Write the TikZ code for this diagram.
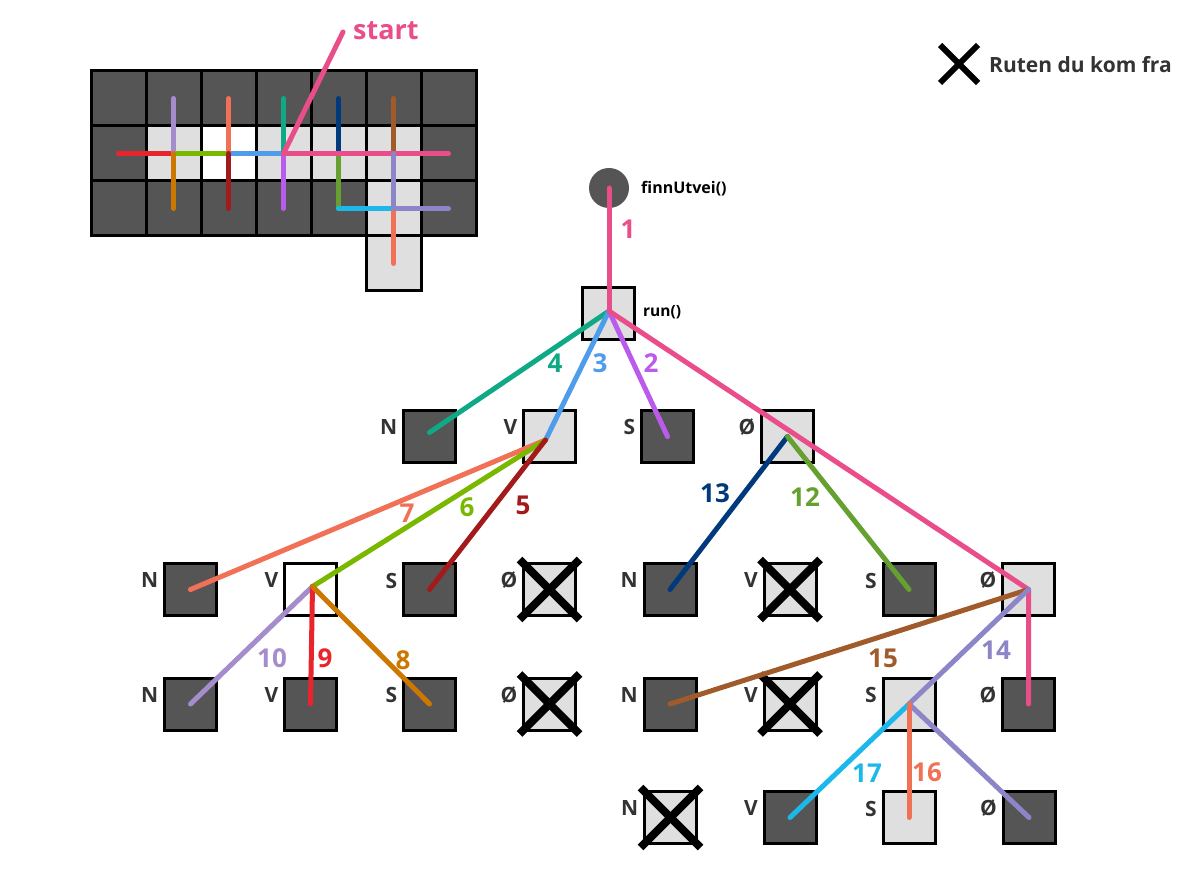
\documentclass[tikz,border=0pt]{standalone}
\usepackage{fontspec}
\setmainfont{Open Sans}
\usetikzlibrary{calc}
\definecolor{cdark}{HTML}{555555}
\definecolor{clight}{HTML}{DFDFDF}
\definecolor{ctext}{HTML}{333333}
\definecolor{cpink}{HTML}{E94E8B}
\definecolor{cteal}{HTML}{10A985}
\definecolor{cblue}{HTML}{4E9DEB}
\definecolor{cpurple}{HTML}{BA5BEC}
\definecolor{csalmon}{HTML}{F07155}
\definecolor{clime}{HTML}{7AB800}
\definecolor{cdarkred}{HTML}{A31A1A}
\definecolor{clav}{HTML}{A58CCB}
\definecolor{cred}{HTML}{E8242C}
\definecolor{corange}{HTML}{CC7700}
\definecolor{cnavy}{HTML}{003A7D}
\definecolor{colive}{HTML}{65A030}
\definecolor{cbrown}{HTML}{A15A2A}
\definecolor{cpgray}{HTML}{8C85C8}
\definecolor{ccyan}{HTML}{1CB8EC}
\newcommand{\mybox}[4]{%
  \node[#1] (#2) at (#3) {};
  \node[lbl] (#2l) at ($(#2.west)+(-6,-9)$) {#4};}
\begin{document}
\begin{tikzpicture}[x=1pt,y=-1pt,
  box/.style={draw=black, line width=3pt, minimum size=52pt, inner sep=0pt, outer sep=0pt},
  dbox/.style={box, fill=cdark},
  lbox/.style={box, fill=clight},
  wbox/.style={box, fill=white},
  cell/.style={draw=black, line width=3pt},
  con/.style={line width=5pt, line cap=round, line join=round},
  num/.style={font=\fontsize{26}{28}\selectfont\bfseries, inner sep=0pt},
  lbl/.style={font=\fontsize{21}{22}\selectfont\bfseries, text=ctext, anchor=east, inner sep=0pt},
  xm/.style={line width=8pt, black}]
\path[use as bounding box] (0,0) rectangle (1195,874);

% ---------- grid ----------
\foreach \c/\r/\f in {0/0/cdark,1/0/cdark,2/0/cdark,3/0/cdark,4/0/cdark,5/0/cdark,6/0/cdark,
  0/1/cdark,1/1/clight,2/1/white,3/1/clight,4/1/clight,5/1/clight,6/1/cdark,
  0/2/cdark,1/2/cdark,2/2/cdark,3/2/cdark,4/2/cdark,5/2/clight,6/2/cdark,5/3/clight}
  \draw[cell, fill=\f] ({91+55*\c},{71+55*\r}) rectangle ++(55,55);
\foreach \c in {0,...,6} \foreach \r in {0,...,3}
  \coordinate (g\c\r) at ({118.5+55*\c},{98.5+55*\r});

\node[font=\fontsize{27}{28}\selectfont\bfseries, text=cpink, inner sep=0pt, anchor=west] (start) at (353,31) {start};

\draw[con,cred] (g01) -- (g11);
\draw[con,clime] (g11) -- (g21);
\draw[con,cblue] (g21) -- (g31);
\draw[con,clav] (g10) -- (g11);
\draw[con,corange] (g11) -- (g12);
\draw[con,csalmon] (g20) -- (g21);
\draw[con,cdarkred] (g21) -- (g22);
\draw[con,cteal] (g30) -- (g31);
\draw[con,cpurple] (g31) -- (g32);
\draw[con,cnavy] (g40) -- (g41);
\draw[con,colive] (g41) -- (g42);
\draw[con,ccyan] (g42) -- (g52);
\draw[con,cbrown] (g50) -- (g51);
\draw[con,csalmon] (g52) -- (g53);
\draw[con,cpink] (g31) -- (g61);
\draw[con,cpgray] (g51) -- (g52) -- (g62);
\draw[con,cpink] (g31) -- ($(start.west)+(-10,1)$);

% ---------- legend ----------
\coordinate (leg) at (959,64);
\draw[line width=6pt] ($(leg)+(-19,-19)$) -- ($(leg)+(19,19)$);
\draw[line width=6pt] ($(leg)+(-19,19)$) -- ($(leg)+(19,-19)$);
\node[font=\fontsize{21}{24}\selectfont\bfseries, text=ctext, anchor=west, inner sep=0pt] (legt) at (989,65) {Ruten du kom fra};

% ---------- tree ----------
\node[circle, fill=cdark, minimum size=40pt, inner sep=0pt] (fu) at (609,188) {};
\node[font=\fontsize{16}{18}\selectfont\bfseries, anchor=west, inner sep=0pt] (fut) at (641,189) {finnUtvei()};
\node[lbox] (run) at (608.5,313.5) {};
\node[font=\fontsize{15.5}{17}\selectfont\bfseries, anchor=west, inner sep=0pt] (runt) at (643,312) {run()};

% level 1
\mybox{dbox}{a1}{429.5,436.5}{N}
\mybox{lbox}{a2}{549.5,436.5}{V}
\mybox{dbox}{a3}{667.5,436.5}{S}
\mybox{lbox}{a4}{787.5,436.5}{Ø}
% level 2
\mybox{dbox}{b1}{190.5,589.5}{N}
\mybox{wbox}{b2}{310.5,589.5}{V}
\mybox{dbox}{b3}{429.5,589.5}{S}
\mybox{lbox}{b4}{549.5,589.5}{Ø}
\mybox{dbox}{b5}{670,589.5}{N}
\mybox{lbox}{b6}{790,589.5}{V}
\mybox{dbox}{b7}{909,589.5}{S}
\mybox{lbox}{b8}{1028.5,589.5}{Ø}
% level 3
\mybox{dbox}{c1}{190.5,704}{N}
\mybox{dbox}{c2}{310.5,704}{V}
\mybox{dbox}{c3}{429.5,704}{S}
\mybox{lbox}{c4}{549.5,704}{Ø}
\mybox{dbox}{c5}{670,704}{N}
\mybox{lbox}{c6}{790,704}{V}
\mybox{lbox}{c7}{909,704}{S}
\mybox{dbox}{c8}{1028.5,704}{Ø}
% level 4
\mybox{lbox}{d5}{670.5,817.5}{N}
\mybox{dbox}{d6}{790,817.5}{V}
\mybox{lbox}{d7}{909,817.5}{S}
\mybox{dbox}{d8}{1029,817.5}{Ø}

% hub points
\coordinate (runh) at ($(run.center)+(0.5,-2.5)$);
\coordinate (a2h) at ($(a2.center)+(-4,3.5)$);
\coordinate (b2h) at ($(b2.center)+(2,-3)$);
\coordinate (a1e) at ($(a1.center)+(0,-4)$);

% crosses
\foreach \n in {b4,c4,b6,c6,d5} {
  \draw[xm] ($(\n.center)+(-30,-30)$) -- ($(\n.center)+(30,30)$);
  \draw[xm] ($(\n.center)+(-30,30)$) -- ($(\n.center)+(30,-30)$);
}

% connectors
\draw[con,cpink] (fu.center) -- (runh);
\draw[con,cteal] (runh) -- (a1e);
\draw[con,cblue] (runh) -- (a2h);
\draw[con,cpurple] (runh) -- (a3.center);
\draw[con,cpink] (runh) -- (b8.center) -- (c8.center);
\draw[con,csalmon] (a2h) -- (b1.center);
\draw[con,clime] (a2h) -- (b2h);
\draw[con,cdarkred] (a2h) -- (b3.center);
\draw[con,clav] (b2h) -- (c1.center);
\draw[con,cred] (b2h) -- (c2.center);
\draw[con,corange] (b2h) -- (c3.center);
\draw[con,cnavy] (a4.center) -- (b5.center);
\draw[con,colive] (a4.center) -- (b7.center);
\draw[con,cbrown] (b8.center) -- (c5.center);
\draw[con,cpgray] (b8.center) -- (c7.center) -- (d8.center);
\draw[con,ccyan] (c7.center) -- (d6.center);
\draw[con,csalmon] (c7.center) -- (d7.center);

% numbers
\node[num,text=cpink] (n1) at (628,229) {1};
\node[num,text=cteal] (n4) at (555,363) {4};
\node[num,text=cblue] (n3) at (600,363) {3};
\node[num,text=cpurple] (n2) at (651,363) {2};
\node[num,text=csalmon] (n7) at (407,513) {7};
\node[num,text=clime] (n6) at (467,507) {6};
\node[num,text=cdarkred] (n5) at (523,505) {5};
\node[num,text=clav] (n10) at (272,658) {10};
\node[num,text=cred] (n9) at (325,658) {9};
\node[num,text=corange] (n8) at (403,660) {8};
\node[num,text=cnavy] (n13) at (715,493) {13};
\node[num,text=colive] (n12) at (805,497) {12};
\node[num,text=cbrown] (n15) at (883,658) {15};
\node[num,text=cpgray] (n14) at (996,650) {14};
\node[num,text=ccyan] (n17) at (867,773) {17};
\node[num,text=csalmon] (n16) at (927,772) {16};
\end{tikzpicture}
\end{document}
